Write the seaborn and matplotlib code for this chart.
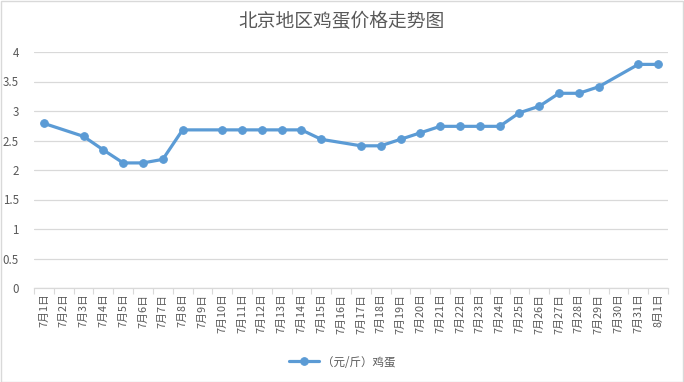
import numpy as np
import pandas as pd
import matplotlib
matplotlib.use("Agg")
import matplotlib.pyplot as plt
import matplotlib.patches as mpatches
from matplotlib.ticker import FixedLocator
import seaborn as sns

categories = [f"7月{d}日" for d in range(1, 32)] + ["8月1日"]
prices = [2.79, np.nan, 2.57, 2.34, 2.12, 2.12, 2.18, 2.68, np.nan, 2.68,
          2.68, 2.68, 2.68, 2.68, 2.52, np.nan, 2.41, 2.41, 2.52, 2.63,
          2.74, 2.74, 2.74, 2.74, 2.97, 3.08, 3.30, 3.30, 3.41, np.nan,
          3.79, 3.79]
series_name = "（元/斤）鸡蛋"
title = "北京地区鸡蛋价格走势图"
y_ticks = [0, 0.5, 1, 1.5, 2, 2.5, 3, 3.5, 4]
y_tick_labels = ["0", "0.5", "1", "1.5", "2", "2.5", "3", "3.5", "4"]

sns.set_theme(style="white")
plt.rcParams['font.family'] = ['Noto Sans CJK SC', 'DejaVu Sans']

df = pd.DataFrame({"pos": np.arange(len(categories)), "price": prices})
df = df.dropna()

W, H = 684, 382
fig = plt.figure(figsize=(W / 100, H / 100), dpi=100)
ax = fig.add_axes([34 / W, 1 - 288 / H, (668 - 34) / W, (288 - 52) / H])

color = "#5B9BD5"
gray = "#595959"
sns.lineplot(data=df, x="pos", y="price", ax=ax, color=color, linewidth=2.3,
             marker="o", markersize=5.5, markeredgecolor=color,
             markerfacecolor=color, label=series_name)

ax.set_xlim(-0.5, len(categories) - 0.5)
ax.set_ylim(0, 4)
ax.set_yticks(y_ticks)
ax.set_yticklabels(y_tick_labels, color=gray, fontsize=8.3)
ax.set_xticks(np.arange(len(categories)))
ax.set_xticklabels(categories, rotation=90, color=gray, fontsize=7.8,
                   ha="center", va="top")
ax.xaxis.set_minor_locator(FixedLocator(np.arange(-0.5, len(categories), 1)))
ax.tick_params(axis="x", which="major", length=0, pad=4)
ax.tick_params(axis="x", which="minor", length=4, color="#D9D9D9", width=0.8,
               bottom=True)
ax.tick_params(axis="y", length=0, pad=11)
ax.set_xlabel("")
ax.set_ylabel("")
ax.grid(axis="y", color="#D9D9D9", linewidth=0.9)
ax.set_axisbelow(True)
for s in ["left", "right", "top"]:
    ax.spines[s].set_visible(False)
ax.spines["bottom"].set_color("#D9D9D9")
ax.spines["bottom"].set_linewidth(0.9)

fig.text(0.5, 1 - 21 / H, title, ha="center", va="center", fontsize=13.5,
         color=gray)

leg = ax.legend(loc="center", bbox_to_anchor=(342 / W, 1 - 362 / H),
                bbox_transform=fig.transFigure, frameon=False, fontsize=8.3,
                handlelength=2.6, handletextpad=0.3)
for t in leg.get_texts():
    t.set_color(gray)

fig.patches.append(mpatches.Rectangle((0.5 / W, 0.5 / H), 1 - 1.5 / W, 1 - 1.5 / H,
                                      transform=fig.transFigure, fill=False,
                                      edgecolor="#D9D9D9", linewidth=1))

fig.savefig("out.png", dpi=100)
